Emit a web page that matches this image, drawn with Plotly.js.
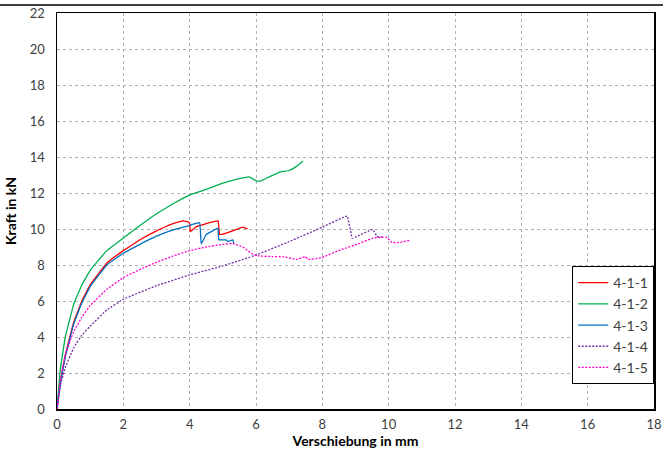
<!DOCTYPE html>
<html>
<head>
<meta charset="utf-8">
<script src="https://cdn.plot.ly/plotly-3.0.1.min.js"></script>
<style>html,body{margin:0;padding:0;background:#fff;}#chart{width:663px;height:449px;}</style>
</head>
<body>
<div id="chart"></div>
<script>
// 4-1-1 (red)
const x411 = [0, 0.1, 0.25, 0.5, 0.75, 1, 1.5, 2, 2.5, 3, 3.5, 3.8, 3.95, 4.0, 4.02, 4.2, 4.5, 4.7, 4.86, 4.9, 5.0, 5.3, 5.6, 5.75];
const y411 = [0, 1.5, 3.0, 4.8, 6.0, 6.9, 8.1, 8.8, 9.4, 9.9, 10.3, 10.45, 10.4, 10.3, 9.85, 10.13, 10.3, 10.4, 10.45, 9.7, 9.72, 9.9, 10.1, 10.0];
// 4-1-2 (green)
const x412 = [0, 0.1, 0.25, 0.5, 0.75, 1, 1.5, 2, 2.5, 3, 3.5, 4, 4.5, 5, 5.5, 5.8, 6.0, 6.15, 6.4, 6.7, 7.0, 7.2, 7.42];
const y412 = [0, 2.2, 4.0, 5.8, 6.9, 7.7, 8.8, 9.5, 10.2, 10.85, 11.4, 11.9, 12.2, 12.55, 12.8, 12.9, 12.68, 12.68, 12.9, 13.15, 13.25, 13.45, 13.78];
// 4-1-3 (blue)
const x413 = [0, 0.1, 0.25, 0.5, 0.75, 1, 1.5, 2, 2.5, 3, 3.5, 4, 4.3, 4.35, 4.5, 4.7, 4.85, 4.88, 5.1, 5.15, 5.3, 5.33];
const y413 = [0, 1.4, 2.9, 4.7, 5.9, 6.8, 8.0, 8.65, 9.15, 9.6, 9.95, 10.2, 10.35, 9.17, 9.7, 9.9, 10.05, 9.4, 9.4, 9.3, 9.4, 9.2];
// 4-1-4 (purple, dotted)
const x414 = [0, 0.1, 0.25, 0.5, 0.75, 1, 1.5, 2, 3, 4, 5, 6, 7, 8, 8.75, 8.9, 9.0, 9.52, 9.64, 9.8];
const y414 = [0, 1.3, 2.3, 3.4, 4.1, 4.6, 5.5, 6.1, 6.85, 7.45, 7.95, 8.55, 9.3, 10.1, 10.72, 9.48, 9.55, 9.98, 9.6, 9.55];
// 4-1-5 (magenta, dotted)
const x415 = [0, 0.1, 0.25, 0.5, 0.75, 1, 1.5, 2, 2.5, 3, 3.5, 4, 4.5, 5, 5.3, 5.6, 5.9, 6.1, 6.5, 6.82, 7.23, 7.48, 7.58, 7.98, 8.53, 9.13, 9.49, 9.74, 9.94, 10.09, 10.29, 10.66];
const y415 = [0, 1.6, 3.0, 4.3, 5.1, 5.75, 6.65, 7.3, 7.75, 8.15, 8.5, 8.8, 9.0, 9.15, 9.2, 9.0, 8.6, 8.5, 8.47, 8.46, 8.31, 8.46, 8.31, 8.41, 8.83, 9.2, 9.48, 9.54, 9.54, 9.26, 9.24, 9.38];

const names = ["4-1-1", "4-1-2", "4-1-3", "4-1-4", "4-1-5"];
const xTicks = [0, 2, 4, 6, 8, 10, 12, 14, 16, 18];
const yTicks = [0, 2, 4, 6, 8, 10, 12, 14, 16, 18, 20, 22];

const FONT = "Lato, 'Open Sans', sans-serif";
const traces = [
  {x: x411, y: y411, name: names[0], line: {color: "#ff0000", width: 1.3}},
  {x: x412, y: y412, name: names[1], line: {color: "#00b050", width: 1.3}},
  {x: x413, y: y413, name: names[2], line: {color: "#0070c0", width: 1.3}},
  {x: x414, y: y414, name: names[3], line: {color: "#7030a0", width: 1.3, dash: "2px,1.5px"}},
  {x: x415, y: y415, name: names[4], line: {color: "#ff00cc", width: 1.3, dash: "2px,1.5px"}}
].map(t => Object.assign({type: "scatter", mode: "lines"}, t, {line: Object.assign({shape: "spline", smoothing: 0.2}, t.line)}));

const layout = {
  width: 663, height: 449,
  margin: {l: 57, r: 9, t: 13, b: 40},
  paper_bgcolor: "#ffffff", plot_bgcolor: "#ffffff",
  font: {family: FONT, size: 13, color: "#404040"},
  showlegend: true,
  legend: {
    x: 0.863, y: 0.063, xanchor: "left", yanchor: "bottom",
    bordercolor: "#000000", borderwidth: 1, bgcolor: "#ffffff",
    font: {family: FONT, size: 14, color: "#404040"},
    tracegroupgap: 0, itemwidth: 30
  },
  xaxis: {
    range: [0, 18], tickvals: xTicks, ticktext: xTicks.map(String),
    showgrid: true, gridcolor: "#b0b0b0", griddash: "dot", gridwidth: 1,
    zeroline: false, showline: true, linecolor: "#000000", linewidth: 1.5, mirror: true,
    ticks: "outside", ticklen: 3, tickcolor: "rgba(0,0,0,0)",
    tickfont: {family: FONT, size: 13, color: "#404040"},
    title: {text: "<b>Verschiebung in mm</b>", standoff: 4, font: {family: FONT, size: 14, color: "#000000"}}
  },
  yaxis: {
    range: [0, 22], tickvals: yTicks, ticktext: yTicks.map(String),
    showgrid: true, gridcolor: "#b0b0b0", griddash: "dot", gridwidth: 1,
    zeroline: false, showline: true, linecolor: "#000000", linewidth: 1.5, mirror: true,
    ticks: "outside", ticklen: 8, tickcolor: "rgba(0,0,0,0)",
    tickfont: {family: FONT, size: 13, color: "#404040"},
    title: {text: "<b>Kraft in kN</b>", standoff: 10, font: {family: FONT, size: 14, color: "#000000"}}
  },
  shapes: [
    {type: "line", xref: "paper", yref: "paper", x0: -0.1, x1: 1.02, y0: 1.02, y1: 1.02,
     line: {color: "#000000", width: 1.5}}
  ]
};

Plotly.newPlot("chart", traces, layout, {staticPlot: true, displayModeBar: false});
</script>
</body>
</html>
